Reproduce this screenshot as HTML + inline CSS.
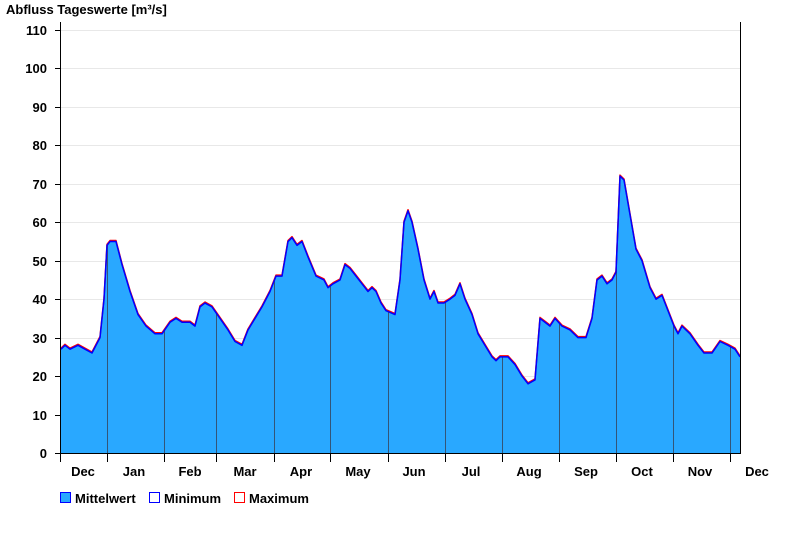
<!DOCTYPE html><html><head><meta charset="utf-8"><style>body{margin:0;background:#fff}svg{display:block}text{font-family:"Liberation Sans",Arial,sans-serif;font-weight:bold;font-size:13px;fill:#000}</style></head><body>
<svg width="800" height="550" viewBox="0 0 800 550">
<text x="6" y="14" font-size="13">Abfluss Tageswerte [m³/s]</text>
<g stroke="#e8e8e8" stroke-width="1">
<line x1="61" x2="740" y1="30.5" y2="30.5"/><line x1="61" x2="740" y1="68.5" y2="68.5"/><line x1="61" x2="740" y1="107.5" y2="107.5"/><line x1="61" x2="740" y1="145.5" y2="145.5"/><line x1="61" x2="740" y1="184.5" y2="184.5"/><line x1="61" x2="740" y1="222.5" y2="222.5"/><line x1="61" x2="740" y1="261.5" y2="261.5"/><line x1="61" x2="740" y1="299.5" y2="299.5"/><line x1="61" x2="740" y1="338.5" y2="338.5"/><line x1="61" x2="740" y1="376.5" y2="376.5"/><line x1="61" x2="740" y1="415.5" y2="415.5"/>
</g>
<g transform="translate(0,453) scale(1,-3.845)">
<defs><clipPath id="cp"><polygon id="pg" points="61,0 61,27 65,28 70,27 78,28 85,27 92,26 100,30 104,40 107,54 110,55 116,55 122,49 130,42 138,36 146,33 155,31 162,31 170,34 176,35 182,34 190,34 195,33 200,38 205,39 212,38 220,35 228,32 235,29 242,28 248,32 255,35 262,38 270,42 276,46 282,46 288,55 292,56 297,54 302,55 308,51 316,46 324,45 328,43 333,44 340,45 345,49 350,48 356,46 362,44 368,42 372,43 376,42 381,39 386,37 395,36 400,45 404,60 408,63 412,60 418,53 424,45 430,40 434,42 438,39 444,39 450,40 455,41 460,44 465,40 472,36 478,31 485,28 492,25 496,24 500,25 508,25 515,23 522,20 528,18 535,19 540,35 545,34 550,33 555,35 562,33 570,32 578,30 586,30 592,35 597,45 602,46 607,44 612,45 616,47 620,72 624,71 630,62 636,53 642,50 650,43 656,40 662,41 668,37 674,33 678,31 682,33 690,31 698,28 704,26 712,26 720,29 728,28 735,27 740,25 740,0"/></clipPath></defs>
<use href="#pg" fill="#29a8ff"/>
<g clip-path="url(#cp)" stroke="#335577" stroke-width="1" vector-effect="non-scaling-stroke">
<line vector-effect="non-scaling-stroke" x1="107.5" x2="107.5" y1="0" y2="100"/><line vector-effect="non-scaling-stroke" x1="164.5" x2="164.5" y1="0" y2="100"/><line vector-effect="non-scaling-stroke" x1="216.5" x2="216.5" y1="0" y2="100"/><line vector-effect="non-scaling-stroke" x1="274.5" x2="274.5" y1="0" y2="100"/><line vector-effect="non-scaling-stroke" x1="330.5" x2="330.5" y1="0" y2="100"/><line vector-effect="non-scaling-stroke" x1="388.5" x2="388.5" y1="0" y2="100"/><line vector-effect="non-scaling-stroke" x1="445.5" x2="445.5" y1="0" y2="100"/><line vector-effect="non-scaling-stroke" x1="502.5" x2="502.5" y1="0" y2="100"/><line vector-effect="non-scaling-stroke" x1="559.5" x2="559.5" y1="0" y2="100"/><line vector-effect="non-scaling-stroke" x1="616.5" x2="616.5" y1="0" y2="100"/><line vector-effect="non-scaling-stroke" x1="673.5" x2="673.5" y1="0" y2="100"/><line vector-effect="non-scaling-stroke" x1="730.5" x2="730.5" y1="0" y2="100"/>
</g>
</g>
<g transform="translate(0,452) scale(1,-3.845)">
<polyline fill="none" stroke="#f00" stroke-width="1.5" stroke-linejoin="round" vector-effect="non-scaling-stroke" points="61,27 65,28 70,27 78,28 85,27 92,26 100,30 104,40 107,54 110,55 116,55 122,49 130,42 138,36 146,33 155,31 162,31 170,34 176,35 182,34 190,34 195,33 200,38 205,39 212,38 220,35 228,32 235,29 242,28 248,32 255,35 262,38 270,42 276,46 282,46 288,55 292,56 297,54 302,55 308,51 316,46 324,45 328,43 333,44 340,45 345,49 350,48 356,46 362,44 368,42 372,43 376,42 381,39 386,37 395,36 400,45 404,60 408,63 412,60 418,53 424,45 430,40 434,42 438,39 444,39 450,40 455,41 460,44 465,40 472,36 478,31 485,28 492,25 496,24 500,25 508,25 515,23 522,20 528,18 535,19 540,35 545,34 550,33 555,35 562,33 570,32 578,30 586,30 592,35 597,45 602,46 607,44 612,45 616,47 620,72 624,71 630,62 636,53 642,50 650,43 656,40 662,41 668,37 674,33 678,31 682,33 690,31 698,28 704,26 712,26 720,29 728,28 735,27 740,25"/>
</g>
<g transform="translate(0,453) scale(1,-3.845)">
<polyline fill="none" stroke="#00f" stroke-width="1.5" stroke-linejoin="round" vector-effect="non-scaling-stroke" points="61,27 65,28 70,27 78,28 85,27 92,26 100,30 104,40 107,54 110,55 116,55 122,49 130,42 138,36 146,33 155,31 162,31 170,34 176,35 182,34 190,34 195,33 200,38 205,39 212,38 220,35 228,32 235,29 242,28 248,32 255,35 262,38 270,42 276,46 282,46 288,55 292,56 297,54 302,55 308,51 316,46 324,45 328,43 333,44 340,45 345,49 350,48 356,46 362,44 368,42 372,43 376,42 381,39 386,37 395,36 400,45 404,60 408,63 412,60 418,53 424,45 430,40 434,42 438,39 444,39 450,40 455,41 460,44 465,40 472,36 478,31 485,28 492,25 496,24 500,25 508,25 515,23 522,20 528,18 535,19 540,35 545,34 550,33 555,35 562,33 570,32 578,30 586,30 592,35 597,45 602,46 607,44 612,45 616,47 620,72 624,71 630,62 636,53 642,50 650,43 656,40 662,41 668,37 674,33 678,31 682,33 690,31 698,28 704,26 712,26 720,29 728,28 735,27 740,25"/>
</g>
<g stroke="#000" stroke-width="1">
<line x1="60.5" x2="60.5" y1="22" y2="454"/><line x1="740.5" x2="740.5" y1="22" y2="454"/><line x1="55" x2="741" y1="453.5" y2="453.5"/>
<line x1="55" x2="60" y1="30.5" y2="30.5"/><line x1="55" x2="60" y1="68.5" y2="68.5"/><line x1="55" x2="60" y1="107.5" y2="107.5"/><line x1="55" x2="60" y1="145.5" y2="145.5"/><line x1="55" x2="60" y1="184.5" y2="184.5"/><line x1="55" x2="60" y1="222.5" y2="222.5"/><line x1="55" x2="60" y1="261.5" y2="261.5"/><line x1="55" x2="60" y1="299.5" y2="299.5"/><line x1="55" x2="60" y1="338.5" y2="338.5"/><line x1="55" x2="60" y1="376.5" y2="376.5"/><line x1="55" x2="60" y1="415.5" y2="415.5"/>
<line x1="60.5" x2="60.5" y1="453" y2="462"/><line x1="107.5" x2="107.5" y1="453" y2="462"/><line x1="164.5" x2="164.5" y1="453" y2="462"/><line x1="216.5" x2="216.5" y1="453" y2="462"/><line x1="274.5" x2="274.5" y1="453" y2="462"/><line x1="330.5" x2="330.5" y1="453" y2="462"/><line x1="388.5" x2="388.5" y1="453" y2="462"/><line x1="445.5" x2="445.5" y1="453" y2="462"/><line x1="502.5" x2="502.5" y1="453" y2="462"/><line x1="559.5" x2="559.5" y1="453" y2="462"/><line x1="616.5" x2="616.5" y1="453" y2="462"/><line x1="673.5" x2="673.5" y1="453" y2="462"/><line x1="730.5" x2="730.5" y1="453" y2="462"/>
</g>
<g text-anchor="end">
<text x="47" y="35">110</text><text x="47" y="73">100</text><text x="47" y="112">90</text><text x="47" y="150">80</text><text x="47" y="189">70</text><text x="47" y="227">60</text><text x="47" y="266">50</text><text x="47" y="304">40</text><text x="47" y="343">30</text><text x="47" y="381">20</text><text x="47" y="420">10</text><text x="47" y="458">0</text>
</g>
<g text-anchor="middle">
<text x="83" y="476">Dec</text><text x="134" y="476">Jan</text><text x="190" y="476">Feb</text><text x="245" y="476">Mar</text><text x="301" y="476">Apr</text><text x="358" y="476">May</text><text x="414" y="476">Jun</text><text x="471" y="476">Jul</text><text x="529" y="476">Aug</text><text x="586" y="476">Sep</text><text x="642" y="476">Oct</text><text x="700" y="476">Nov</text><text x="757" y="476">Dec</text>
</g>
<rect x="60.5" y="492.5" width="10" height="10" fill="#29a8ff" stroke="#00f"/>
<text x="75" y="503">Mittelwert</text>
<rect x="149.5" y="492.5" width="10" height="10" fill="#fff" stroke="#00f"/>
<text x="164" y="503">Minimum</text>
<rect x="234.5" y="492.5" width="10" height="10" fill="#fff" stroke="#f00"/>
<text x="249" y="503">Maximum</text>
</svg>
</body></html>
